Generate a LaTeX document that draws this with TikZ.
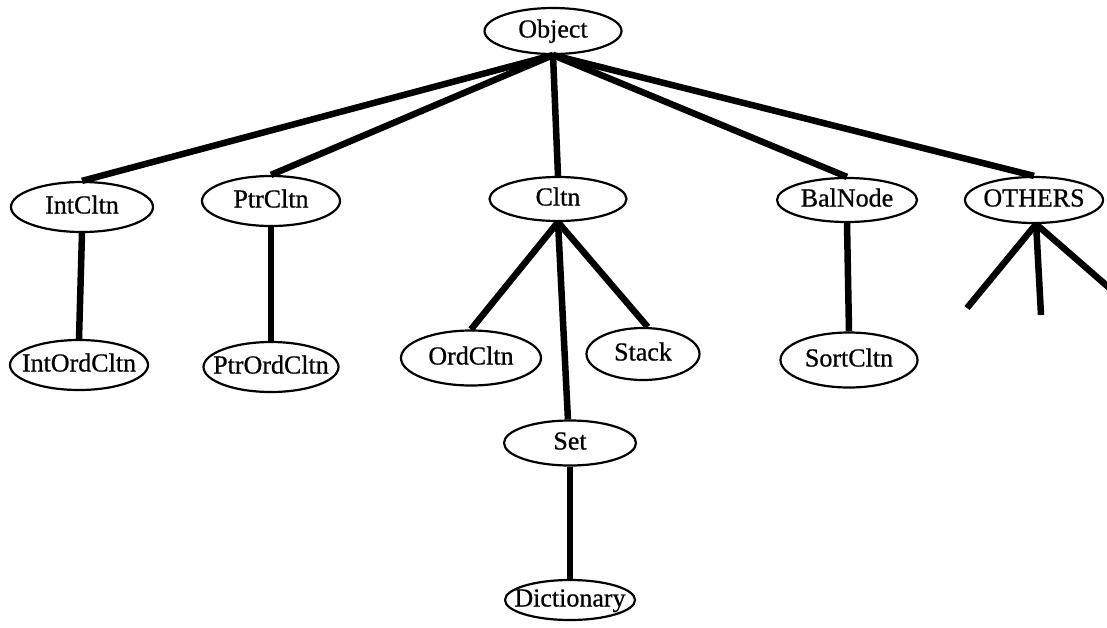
\documentclass[tikz,border=0pt]{standalone}
\usepackage{fontspec}
\setmainfont{Liberation Serif}
\newfontfamily\lblfont{Liberation Serif}[FakeBold=0.7]
\usetikzlibrary{shapes.geometric}
\tikzset{
  cls/.style={ellipse, draw, line width=2.2pt, inner sep=0pt,
    text height=18pt, text depth=5pt,
    font=\lblfont\fontsize{26}{30}\selectfont},
  link/.style={line width=6.5pt},
}
\newcommand\lbl[1]{\makebox[0pt]{#1}}
\begin{document}
\begin{tikzpicture}[x=1pt,y=-1pt]
\useasboundingbox (0,0) rectangle (1107,627);
% nodes
\node[cls, minimum width=137pt, minimum height=46pt] (obj)   at (553,31)  {\lbl{Object}};
\node[cls, minimum width=142pt, minimum height=50pt] (intc)  at (82,207)  {\lbl{IntCltn}};
\node[cls, minimum width=138pt, minimum height=50pt] (ptrc)  at (271,201) {\lbl{PtrCltn}};
\node[cls, minimum width=137pt, minimum height=44pt] (cltn)  at (558,199) {\lbl{Cltn}};
\node[cls, minimum width=140pt, minimum height=44pt] (baln)  at (847,200) {\lbl{BalNode}};
\node[cls, minimum width=138pt, minimum height=46pt] (oth)   at (1034,200) {\lbl{OTHERS}};
\node[cls, minimum width=138pt, minimum height=50pt] (intoc) at (79,365)  {\lbl{IntOrdCltn}};
\node[cls, minimum width=135pt, minimum height=50pt] (ptroc) at (271,367) {\lbl{PtrOrdCltn}};
\node[cls, minimum width=140pt, minimum height=55pt] (ordc)  at (471,358) {\lbl{OrdCltn}};
\node[cls, minimum width=113pt, minimum height=52pt] (stack) at (643,354) {\lbl{Stack}};
\node[cls, minimum width=132pt, minimum height=45pt] (setn)  at (570,443) {\lbl{Set}};
\node[cls, minimum width=130pt, minimum height=40pt] (dict)  at (570,600) {\lbl{Dictionary}};
\node[cls, minimum width=137pt, minimum height=55pt] (sortc) at (849,360) {\lbl{SortCltn}};
% free ends of OTHERS stubs
\coordinate (o1) at (967,308);
\coordinate (o2) at (1041,315);
\coordinate (o3) at (1114,292);
% connectors
\draw[link] (obj.south) -- (intc.north);
\draw[link] (obj.south) -- (ptrc.north);
\draw[link] (obj.south) -- (cltn.north);
\draw[link] (obj.south) -- (baln.north);
\draw[link] (obj.south) -- (oth.north);
\draw[link] (intc.south) -- (intoc.north);
\draw[link] (ptrc.south) -- (ptroc.north);
\draw[link] (baln.south) -- (sortc.north);
\draw[link] (cltn.south) -- (ordc.north);
\draw[link] (cltn.south) -- (stack.80);
\draw[link] (cltn.south) -- (setn.95);
\draw[link] (setn.south) -- (dict.north);
\draw[link] (oth.-85) -- (o1);
\draw[link] (oth.-85) -- (o2);
\draw[link] (oth.-85) -- (o3);
\end{tikzpicture}
\end{document}
